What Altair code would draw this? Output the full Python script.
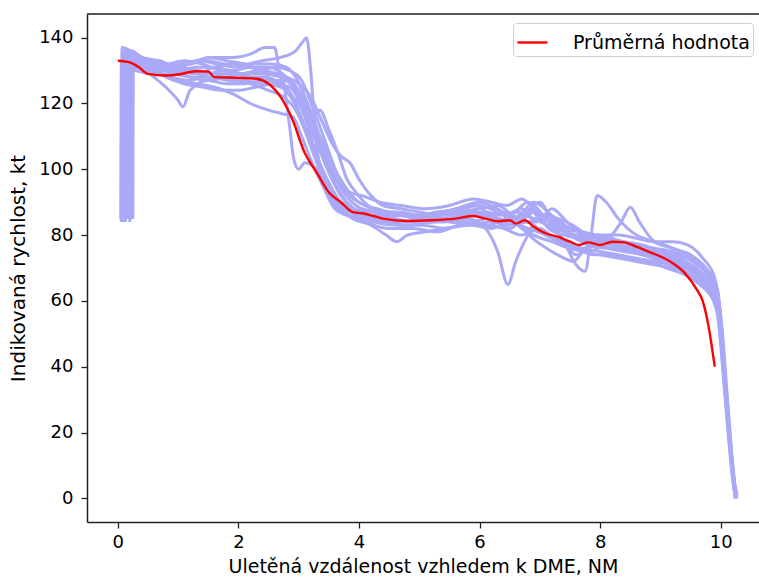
import altair as alt
import pandas as pd

# --- data ---
X_TICKS = [0, 2, 4, 6, 8, 10]
Y_TICKS = [0, 20, 40, 60, 80, 100, 120, 140]
MEAN_LABEL = "Průměrná hodnota"

mean_x = [0.0, 0.2, 0.35, 0.5, 0.8, 1.0, 1.3, 1.5, 1.6, 2.0, 2.3, 2.5, 2.7, 2.9, 3.1, 3.3, 3.5, 3.7,
          3.9, 4.1, 4.4, 4.8, 5.2, 5.6, 5.9, 6.1, 6.3, 6.5, 6.6, 6.75, 6.9, 7.1, 7.3, 7.5, 7.65, 7.8,
          8.0, 8.2, 8.4, 8.6, 8.8, 9.0, 9.2, 9.4, 9.6, 9.7, 9.8, 9.9]
mean_y = [133, 132.5, 131, 129, 128.5, 128.8, 129.8, 129.7, 128, 127.8, 127.5, 126, 122, 115, 105, 99,
          93, 90, 87, 86.5, 85, 84.3, 84.5, 85, 85.8, 85, 84.2, 84.5, 83.5, 84.5, 82.5, 80.5, 79.5,
          78, 77, 77.8, 77, 78, 77.8, 76.5, 75, 73.5, 71.5, 68.5, 63.5, 60, 52, 40]

trace_01 = [(0.10,85),(0.11,135),(0.3,133),(0.6,130),(0.9,131),(1.2,132),(1.5,133),(1.8,132),(2.1,132),(2.4,133),(2.7,134),(2.95,136),(3.08,139),(3.13,140),(3.2,130),(3.28,110),(3.4,98),(3.6,92),(3.8,88),(4.0,86),(4.3,85),(4.7,86),(5.1,84),(5.5,85),(5.9,87),(6.2,86),(6.5,84),(6.8,88),(7.1,83),(7.4,81),(7.7,79),(8.0,78),(8.3,77),(8.6,76),(8.9,75),(9.2,73),(9.5,71),(9.75,67),(9.95,60),(10.05,40),(10.15,18),(10.24,1)]
trace_02 = [(0.22,85),(0.23,136),(0.4,134),(0.7,133),(1.0,131),(1.3,133),(1.6,134),(1.9,134),(2.2,135),(2.45,137),(2.6,137),(2.68,130),(2.8,124),(3.0,120),(3.2,112),(3.4,104),(3.6,96),(3.8,90),(4.0,87),(4.4,85),(4.8,84),(5.2,86),(5.6,88),(6.0,90),(6.3,88),(6.6,85),(6.9,90),(7.2,86),(7.5,82),(7.8,80),(8.1,78),(8.4,76),(8.7,74),(9.0,73),(9.3,71),(9.6,68),(9.85,63),(9.98,55),(10.08,33),(10.18,12),(10.25,1)]
trace_03 = [(0.06,84),(0.07,137),(0.3,135),(0.6,132),(0.9,130),(1.2,128),(1.5,127),(1.8,128),(2.1,129),(2.4,130),(2.6,131),(2.75,126),(2.85,113),(2.92,103),(3.0,100),(3.1,102),(3.3,100),(3.5,92),(3.7,87),(4.0,85),(4.4,84),(4.8,83),(5.2,84),(5.6,85),(6.0,86),(6.3,84),(6.6,87),(6.9,85),(7.2,84),(7.5,80),(7.8,77),(8.1,76),(8.4,75),(8.7,74),(9.0,72),(9.3,70),(9.6,66),(9.85,62),(9.97,54),(10.07,32),(10.17,12),(10.24,0)]
trace_04 = [(0.12,85),(0.13,134),(0.4,131),(0.7,129),(1.0,127),(1.3,126),(1.6,125),(1.9,123),(2.2,120),(2.5,118),(2.7,117),(2.9,116),(3.05,110),(3.2,103),(3.4,95),(3.6,88),(3.8,86),(4.1,84),(4.5,82),(4.9,82),(5.3,81),(5.7,83),(6.1,83),(6.4,82),(6.7,80),(7.0,82),(7.3,78),(7.6,76),(7.9,74),(8.2,74),(8.5,73),(8.8,72),(9.1,70),(9.4,68),(9.65,65),(9.88,60),(10.0,50),(10.1,28),(10.2,8),(10.26,1)]
trace_05 = [(0.08,84),(0.09,135),(0.3,132),(0.6,128),(0.85,124),(1.0,121),(1.08,119),(1.2,124),(1.5,127),(1.8,126),(2.1,126),(2.4,127),(2.7,126),(2.9,122),(3.1,113),(3.3,104),(3.5,96),(3.7,90),(3.9,88),(4.2,86),(4.6,86),(5.0,85),(5.4,84),(5.8,85),(6.1,82),(6.3,75),(6.47,65),(6.6,72),(6.8,80),(7.0,86),(7.3,84),(7.6,79),(7.9,77),(8.2,76),(8.5,75),(8.8,74),(9.1,73),(9.4,71),(9.7,67),(9.9,61),(10.0,53),(10.1,30),(10.2,9),(10.25,1)]
trace_06 = [(0.18,85),(0.19,133),(0.4,131),(0.7,130),(1.0,130),(1.3,131),(1.6,131),(1.9,130),(2.2,131),(2.5,131),(2.8,128),(3.0,124),(3.2,116),(3.4,108),(3.6,100),(3.8,94),(4.0,90),(4.3,88),(4.7,86),(5.1,85),(5.5,87),(5.9,89),(6.2,88),(6.5,86),(6.8,90),(7.1,85),(7.4,78),(7.6,71),(7.75,69),(7.85,80),(7.95,92),(8.1,90),(8.3,85),(8.6,80),(8.9,78),(9.2,76),(9.5,73),(9.75,69),(9.93,62),(10.03,45),(10.13,22),(10.22,5),(10.27,1)]
trace_07 = [(0.24,85),(0.25,135),(0.5,133),(0.8,132),(1.1,133),(1.4,132),(1.7,130),(2.0,129),(2.3,130),(2.6,131),(2.85,130),(3.05,127),(3.25,118),(3.45,108),(3.65,98),(3.85,92),(4.1,89),(4.5,87),(4.9,86),(5.3,87),(5.7,88),(6.0,89),(6.3,87),(6.6,84),(6.9,80),(7.2,78),(7.5,76),(7.8,75),(8.1,78),(8.35,84),(8.5,88.5),(8.65,84),(8.9,78),(9.2,76),(9.5,74),(9.75,70),(9.93,64),(10.03,45),(10.13,22),(10.22,5),(10.26,1)]
trace_08 = [(0.15,86),(0.16,136),(0.4,134),(0.7,132),(1.0,130),(1.3,129),(1.6,131),(1.9,132),(2.2,131),(2.5,129),(2.8,128),(3.0,126),(3.2,122),(3.4,114),(3.55,108),(3.7,104),(3.85,102),(4.0,97),(4.2,92),(4.4,89),(4.7,88),(5.0,87),(5.4,86),(5.8,87),(6.1,86),(6.4,84),(6.7,86),(7.0,84),(7.3,82),(7.6,80),(7.9,78),(8.2,77),(8.5,76),(8.8,75),(9.1,73),(9.4,71),(9.7,67),(9.9,62),(10.02,48),(10.12,25),(10.21,6),(10.26,1)]
trace_09 = [(0.05,85),(0.06,133),(0.3,130),(0.6,129),(0.9,129),(1.2,130),(1.5,128),(1.8,128),(2.1,127),(2.4,126),(2.7,125),(2.9,121),(3.1,112),(3.3,102),(3.5,93),(3.7,88),(3.9,85),(4.2,83),(4.45,80),(4.63,78),(4.8,80),(5.1,81),(5.4,82),(5.8,83),(6.2,84),(6.5,83),(6.8,84),(7.1,80),(7.4,78),(7.7,76),(8.0,75),(8.3,74),(8.6,73),(8.9,72),(9.2,71),(9.5,69),(9.75,65),(9.92,60),(10.02,44),(10.12,22),(10.2,6),(10.24,0)]
trace_10 = [(0.2,84),(0.21,134),(0.45,132),(0.75,131),(1.05,132),(1.35,133),(1.65,132),(1.95,131),(2.25,132),(2.55,132),(2.8,131),(2.95,128),(3.15,120),(3.35,110),(3.55,100),(3.75,93),(3.95,89),(4.25,87),(4.6,85),(5.0,84),(5.4,85),(5.8,86),(6.1,87),(6.4,86),(6.7,88),(6.95,84),(7.2,88),(7.45,84),(7.7,80),(8.0,79),(8.3,78),(8.6,77),(8.9,76),(9.2,75),(9.5,73),(9.75,70),(9.95,63),(10.05,42),(10.15,18),(10.23,3),(10.27,0)]
trace_11 = [(0.1,85),(0.11,136),(0.35,133),(0.65,131),(0.95,129),(1.25,128),(1.55,128),(1.85,127),(2.15,128),(2.45,128),(2.7,126),(2.9,122),(3.05,115),(3.25,105),(3.45,96),(3.65,90),(3.85,87),(4.1,86),(4.5,85),(4.9,84),(5.3,84),(5.7,86),(6.0,88),(6.25,85),(6.5,82),(6.75,86),(7.0,90),(7.2,84),(7.4,78),(7.6,74),(7.8,76),(8.05,78),(8.35,76),(8.65,75),(8.95,73),(9.25,72),(9.55,70),(9.8,66),(9.96,58),(10.06,38),(10.16,16),(10.24,2)]
trace_12 = [(0.13,84),(0.14,135),(0.4,133),(0.7,131),(1.0,129),(1.3,130),(1.6,129),(1.9,127),(2.2,126),(2.5,124),(2.75,122),(2.95,118),(3.15,110),(3.35,101),(3.55,93),(3.75,88),(3.95,86),(4.25,84),(4.65,83),(5.05,83),(5.45,82),(5.85,84),(6.15,83),(6.45,85),(6.7,82),(6.95,78),(7.2,75),(7.4,73),(7.55,72),(7.75,76),(7.95,80),(8.2,79),(8.5,77),(8.8,75),(9.1,74),(9.4,72),(9.65,69),(9.88,63),(10.0,50),(10.1,28),(10.19,9),(10.25,1)]
trace_13 = [(0.07,85),(0.08,134),(0.3,131),(0.6,130),(0.9,131),(1.2,132),(1.5,134),(1.8,133),(2.1,132),(2.4,130),(2.65,129),(2.85,127),(3.05,122),(3.25,113),(3.45,103),(3.65,96),(3.85,93),(4.05,92),(4.35,90),(4.7,89),(5.1,88),(5.5,89),(5.9,91),(6.2,90),(6.45,89),(6.7,91),(6.9,88),(7.15,82),(7.4,80),(7.65,79),(7.9,78),(8.2,77),(8.5,76),(8.8,75),(9.1,74),(9.4,73),(9.7,70),(9.92,64),(10.03,46),(10.13,22),(10.21,5),(10.26,0)]
trace_14 = [(0.25,85),(0.26,133),(0.5,131),(0.8,128),(1.1,126),(1.4,125),(1.7,124),(2.0,124),(2.3,125),(2.6,126),(2.85,125),(3.0,121),(3.15,113),(3.3,104),(3.45,96),(3.6,91),(3.8,88),(4.0,86),(4.3,85),(4.7,84),(5.1,85),(5.5,84),(5.9,83),(6.2,82),(6.5,84),(6.8,82),(7.1,80),(7.4,77),(7.7,75),(8.0,74),(8.3,73),(8.6,72),(8.9,71),(9.2,70),(9.5,68),(9.75,64),(9.93,58),(10.03,40),(10.13,18),(10.21,4),(10.25,0)]
trace_15 = [(0.17,85),(0.18,134),(0.4,132),(0.7,130),(1.0,131),(1.3,130),(1.6,129),(1.9,129),(2.2,128),(2.5,127),(2.75,127),(2.95,125),(3.1,119),(3.25,116),(3.35,118),(3.5,112),(3.65,105),(3.8,97),(3.95,93),(4.15,89),(4.4,87),(4.8,86),(5.2,86),(5.6,87),(6.0,88),(6.3,89),(6.55,86),(6.8,84),(7.05,86),(7.3,85),(7.55,83),(7.8,80),(8.1,79),(8.4,78),(8.7,77),(9.0,75),(9.3,74),(9.6,71),(9.85,66),(9.98,58),(10.08,36),(10.18,14),(10.25,1)]
trace_16 = [(0.09,84),(0.1,132),(0.3,131),(0.6,130),(0.9,128),(1.2,127),(1.5,129),(1.8,130),(2.1,129),(2.4,129),(2.7,128),(2.9,125),(3.1,118),(3.3,108),(3.5,99),(3.7,92),(3.9,88),(4.2,87),(4.6,87),(5.0,86),(5.4,85),(5.8,84),(6.1,85),(6.4,87),(6.65,84),(6.9,87),(7.15,85),(7.4,82),(7.7,81),(8.0,80),(8.3,80),(8.6,79),(8.9,78),(9.2,78),(9.45,77),(9.7,73),(9.9,67),(10.02,52),(10.12,28),(10.21,7),(10.27,1)]

TRACES = [trace_01, trace_02, trace_03, trace_04, trace_05, trace_06, trace_07, trace_08,
          trace_09, trace_10, trace_11, trace_12, trace_13, trace_14, trace_15, trace_16]

# --- build tables ---
rows = []
for t, tr in enumerate(TRACES):
    for i, (x, y) in enumerate(tr):
        rows.append({"trace": t, "i": i, "x": x, "y": y})
df_tr = pd.DataFrame(rows)
df_mean = pd.DataFrame({"x": mean_x, "y": mean_y, "i": range(len(mean_x)), "label": MEAN_LABEL})

FONT = "DejaVu Sans"
SPINE = "#222222"
xscale = alt.Scale(domain=[-0.51, 10.634], nice=False, zero=False)
yscale = alt.Scale(domain=[-7.2, 147.2], nice=False, zero=False)

x_axis = alt.Axis(values=X_TICKS, title="Uletěná vzdálenost vzhledem k DME, NM", grid=False,
                  labelFontSize=18, titleFontSize=19, labelFont=FONT, titleFont=FONT,
                  labelColor="black", titleColor="black", tickColor=SPINE, domainColor=SPINE,
                  domainWidth=1.5, tickWidth=1.3,
                  tickSize=6, labelPadding=5, titlePadding=6, titleFontWeight="normal", format="d")
y_axis = alt.Axis(values=Y_TICKS, title="Indikovaná rychlost, kt", grid=False,
                  labelFontSize=18, titleFontSize=20, labelFont=FONT, titleFont=FONT,
                  labelColor="black", titleColor="black", tickColor=SPINE, domainColor=SPINE,
                  domainWidth=1.5, tickWidth=1.3,
                  tickSize=6, labelPadding=8, titlePadding=10, titleFontWeight="normal", format="d")

blue = alt.Chart(df_tr).mark_line(color="#a9a9f7", strokeWidth=3, clip=True,
                                  interpolate="monotone").encode(
    x=alt.X("x:Q", scale=xscale, axis=x_axis),
    y=alt.Y("y:Q", scale=yscale, axis=y_axis),
    detail="trace:N",
    order="i:Q",
)

red = alt.Chart(df_mean).mark_line(strokeWidth=2.4, clip=True, interpolate="monotone").encode(
    x=alt.X("x:Q", scale=xscale),
    y=alt.Y("y:Q", scale=yscale),
    order="i:Q",
    color=alt.Color("label:N", scale=alt.Scale(domain=[MEAN_LABEL], range=["#ff0000"]),
                    legend=alt.Legend(title=None, orient="none", legendX=426, legendY=9,
                                      labelFont=FONT, labelFontSize=19, labelColor="black",
                                      labelLimit=0,
                                      symbolType="stroke", symbolStrokeWidth=2.4, symbolSize=900,
                                      strokeColor="#d0d0d0", fillColor="white", padding=3,
                                      cornerRadius=3, labelOffset=24)),
)

# top spine of the plot frame
top_spine = alt.Chart(pd.DataFrame({"k": [0]})).mark_rule(color=SPINE, strokeWidth=1.5).encode(
    x=alt.value(0), x2=alt.value(672), y=alt.value(0)
)

chart = alt.layer(blue, red, top_spine).properties(
    width=672, height=508,
    autosize=alt.AutoSizeParams(type="none"),
    padding={"left": 87, "top": 14, "right": 0, "bottom": 57},
).configure_view(stroke=SPINE, strokeWidth=1.5).configure(background="white")

chart.save("out.html", embed_options={"renderer": "svg", "actions": False})
